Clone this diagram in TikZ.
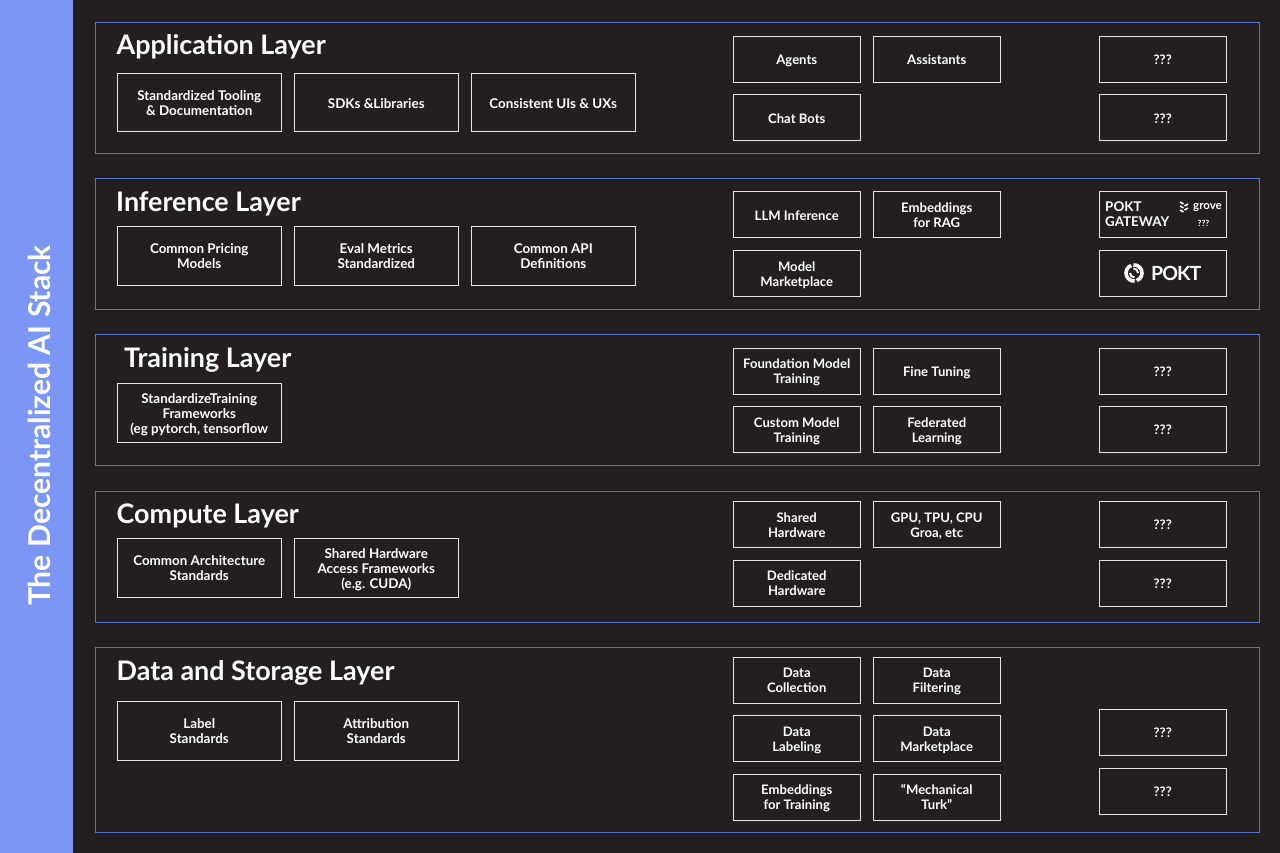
\documentclass[tikz,border=0pt]{standalone}
\usepackage{fontspec}
\setmainfont{Lato}
\definecolor{bgdark}{HTML}{231F20}
\definecolor{sidebar}{HTML}{7B96F5}
\definecolor{layerline}{HTML}{5672C8}
\definecolor{boxline}{HTML}{E4E4E4}
\tikzset{
  layerbox/.style={draw=layerline, line width=1pt, outer sep=0pt, minimum width=1163.5pt, anchor=north west, inner sep=0pt},
  layertitle/.style={anchor=base west, text=white, inner sep=0pt, font=\fontsize{26.9}{28}\selectfont\bfseries},
  boxtext/.style={draw=boxline, line width=1pt, outer sep=0pt, inner sep=0pt, text=white, align=flush center,
    execute at begin node={\rule{0pt}{14pt}}, execute at end node={\rule[-3.4pt]{0pt}{0pt}}},
  bigbox/.style={boxtext, minimum width=163.5pt, minimum height=58.5pt, text width=160pt,
    font=\fontsize{13.4}{15}\selectfont\bfseries},
  smallbox/.style={boxtext, minimum width=126.5pt, minimum height=46pt, text width=124pt,
    font=\fontsize{13.1}{15}\selectfont\bfseries},
}
\begin{document}
\begin{tikzpicture}[x=1pt, y=-1pt]
  \useasboundingbox (0,0) rectangle (1280,853);
  % Background and side band
  \fill[bgdark] (0,0) rectangle (1280,853);
  \fill[sidebar] (0,0) rectangle (73,853);
  \node[rotate=90, text=white, inner sep=0pt, font=\fontsize{30.1}{32}\selectfont\bfseries] (stacktitle) at (39.5,425.5) {The Decentralized AI Stack};

  % Layer frames
  \node[layerbox, minimum height=131pt] (applayer) at (95.5,22.5) {};
  \node[layerbox, minimum height=131pt] (inflayer) at (95.5,178.5) {};
  \node[layerbox, minimum height=131pt] (trainlayer) at (95.5,334.5) {};
  \node[layerbox, minimum height=131pt] (complayer) at (95.5,491) {};
  \node[layerbox, minimum height=184.5pt] (datalayer) at (95.5,647.5) {};

  % Layer titles
  \node[layertitle] (apptitle) at (116.5,55) {Application Layer};
  \node[layertitle] (inftitle) at (116,212) {Inference Layer};
  \node[layertitle] (traintitle) at (124,367) {Training Layer};
  \node[layertitle] (comptitle) at (116.5,523.5) {Compute Layer};
  \node[layertitle] (datatitle) at (116.5,680) {Data and Storage Layer};

  % Standards boxes
  \node[bigbox] (tooling) at (199.25,102.75) {Standardized Tooling\\\& Documentation};
  \node[bigbox] (sdks) at (376.25,102.75) {SDKs \&Libraries};
  \node[bigbox] (uis) at (553.25,102.75) {Consistent UIs \& UXs};
  \node[bigbox] (pricing) at (199.25,255.75) {Common Pricing\\Models};
  \node[bigbox] (evalmetrics) at (376.25,255.75) {Eval Metrics\\Standardized};
  \node[bigbox] (apidefs) at (553.25,255.75) {Common API\\Definitions};
  \node[bigbox] (frameworks) at (199.25,412.75) {StandardizeTraining\\Frameworks\\(eg pytorch, tensorflow};
  \node[bigbox] (architecture) at (199.25,567.75) {Common Architecture\\Standards};
  \node[bigbox] (hwaccess) at (376.25,567.75) {Shared Hardware\\Access Frameworks\\(e.g. CUDA)};
  \node[bigbox] (labels) at (199.25,730.75) {Label\\Standards};
  \node[bigbox] (attribution) at (376.25,730.75) {Attribution\\Standards};

  % Application row
  \node[smallbox] (agents) at (796.75,59.5) {Agents};
  \node[smallbox] (assistants) at (936.75,59.5) {Assistants};
  \node[smallbox] (chatbots) at (796.75,118) {Chat Bots};
  \node[smallbox] (appa) at (1162.75,59.5) {???};
  \node[smallbox] (appb) at (1162.75,118) {???};

  % Inference row
  \node[smallbox] (llm) at (796.75,215) {LLM Inference};
  \node[smallbox] (embedrag) at (936.75,215) {Embeddings\\for RAG};
  \node[smallbox] (marketplace) at (796.75,273.5) {Model\\Marketplace};
  \node[smallbox] (gateway) at (1162.75,215) {};
  \node[anchor=west, text=white, inner sep=0pt, align=left, font=\fontsize{13.4}{15}\selectfont\bfseries] (gatewaytext) at (1105,214) {POKT\\GATEWAY};
  \node[anchor=base west, text=white, inner sep=0pt, font=\fontsize{11.5}{13}\selectfont\bfseries] (grovetext) at (1193,210) {grove};
  \node[text=white, inner sep=0pt, font=\fontsize{8.5}{10}\selectfont\bfseries] (grovemark) at (1203.5,223) {???};
  % leaf mark
  \foreach \yy in {202.5,206.5,210.5} {
    \draw[white, line width=1.6pt] (1180,\yy-0.5) -- (1183.5,\yy+1.5);
  }
  \foreach \yy in {205,209} {
    \draw[white, line width=1.6pt] (1188,\yy-1) -- (1184.5,\yy+1);
  }

  \node[smallbox] (pokt) at (1162.75,273.5) {};
  \node[anchor=west, text=white, inner sep=0pt, font=\fontsize{19.5}{22}\selectfont\bfseries] (pokttext) at (1151,273.5) {\addfontfeature{LetterSpace=-5}POKT};
  % ring mark
  \draw[white, line width=3.6pt] (1134,273) ++(70:8) arc (70:-95:8);
  \draw[white, line width=3.6pt] (1134,273) ++(250:8) arc (250:85:8);
  \draw[white, line width=2pt] (1138,273) arc (0:-90:4.5);
  \draw[white, line width=2pt] (1130,273) arc (180:90:4.5);

  % Training row
  \node[smallbox] (foundation) at (796.75,371) {Foundation Model\\Training};
  \node[smallbox] (finetuning) at (936.75,371) {Fine Tuning};
  \node[smallbox] (custommodel) at (796.75,429.5) {Custom Model\\Training};
  \node[smallbox] (federated) at (936.75,429.5) {Federated\\Learning};
  \node[smallbox] (traina) at (1162.75,371) {???};
  \node[smallbox] (trainb) at (1162.75,429.5) {???};

  % Compute row
  \node[smallbox] (sharedhw) at (796.75,524.5) {Shared\\Hardware};
  \node[smallbox] (gpus) at (936.75,524.5) {GPU, TPU, CPU\\Groa, etc};
  \node[smallbox] (dedicated) at (796.75,583) {Dedicated\\Hardware};
  \node[smallbox] (compa) at (1162.75,524.5) {???};
  \node[smallbox] (compb) at (1162.75,583) {???};

  % Data row
  \node[smallbox] (collection) at (796.75,680) {Data\\Collection};
  \node[smallbox] (filtering) at (936.75,680) {Data\\Filtering};
  \node[smallbox] (labeling) at (796.75,738.5) {Data\\Labeling};
  \node[smallbox] (datamarket) at (936.75,738.5) {Data\\Marketplace};
  \node[smallbox] (embedtrain) at (796.75,797) {Embeddings\\for Training};
  \node[smallbox] (mturk) at (936.75,797) {``Mechanical\\Turk''};
  \node[smallbox] (dataa) at (1162.75,732.5) {???};
  \node[smallbox] (datab) at (1162.75,791) {???};
\end{tikzpicture}
\end{document}
